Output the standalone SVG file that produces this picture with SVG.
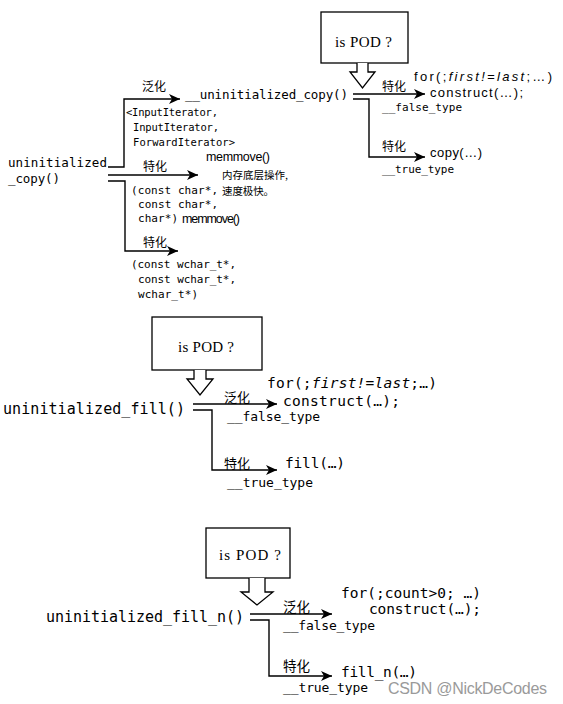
<svg xmlns="http://www.w3.org/2000/svg" width="563" height="704" viewBox="0 0 563 704">
<defs>
<marker id="ah" markerUnits="userSpaceOnUse" markerWidth="12" markerHeight="10" refX="11" refY="5" orient="auto">
<path d="M0,0 L11,5 L0,10 L3,5 Z" fill="#000"/>
</marker>
</defs>
<style>
.ln{fill:none;stroke:#000;stroke-width:1.4}
.arr{fill:none;stroke:#000;stroke-width:1.4;marker-end:url(#ah)}
.box{fill:#fff;stroke:#000;stroke-width:1.3}
.hol{fill:#fff;stroke:#000;stroke-width:1.3;stroke-linejoin:miter}
.m{font-family:"DejaVu Sans Mono","Liberation Mono",monospace;fill:#000}
.s{font-family:"Liberation Sans",Arial,sans-serif;fill:#000}
.c{font-family:"Noto Sans CJK SC","Noto Sans",sans-serif;fill:#000}
.pod{font-family:"Liberation Serif","Times New Roman",serif;font-size:15px;fill:#000}
.wm{font-family:"Liberation Sans",Arial,sans-serif;font-size:16px;fill:#9a9a9a}
</style>
<rect width="563" height="704" fill="#fff"/>

<!-- ============ Section 1 ============ -->
<g id="pod1">
<rect class="box" x="321" y="12" width="87" height="51"/>
<text class="pod" x="335" y="47" textLength="57">is POD ?</text>
<path class="hol" d="M357,63 L357,72 L350,72 L362.5,88 L375,72 L368,72 L368,63"/>
</g>
<g id="uc">
<text class="m" x="8" y="167" font-size="12.5" textLength="99">uninitialized</text>
<text class="m" x="8" y="183" font-size="12.5" textLength="52">_copy()</text>
</g>
<g id="uuc">
<text class="m" x="185" y="99" font-size="12.5" textLength="163">__uninitialized_copy()</text>
</g>
<g id="generic1">
<text class="c" x="142" y="91" font-size="12">泛化</text>
<text class="m" x="126" y="116" font-size="10.5" textLength="92">&lt;InputIterator,</text>
<text class="m" x="133" y="131" font-size="10.5" textLength="86">InputIterator,</text>
<text class="m" x="133" y="146" font-size="10.5" textLength="102">ForwardIterator&gt;</text>
</g>
<g id="char1">
<text class="s" x="206" y="161" font-size="12.5" textLength="64">memmove()</text>
<text class="c" x="143" y="171" font-size="12">特化</text>
<text class="c" x="222" y="179" font-size="10.5" textLength="66">内存底层操作,</text>
<text class="c" x="222" y="195" font-size="10.5" textLength="52">速度极快。</text>
<text class="m" x="131" y="194" font-size="11" textLength="87">(const char*,</text>
<text class="m" x="138" y="208" font-size="11" textLength="80">const char*,</text>
<text class="m" x="138" y="222" font-size="11" textLength="40">char*)</text>
<text class="s" x="182" y="223" font-size="12.5" textLength="58">memmove()</text>
</g>
<g id="wchar1">
<text class="c" x="143" y="247" font-size="12">特化</text>
<text class="m" x="131" y="268" font-size="11" textLength="105">(const wchar_t*,</text>
<text class="m" x="138" y="283" font-size="11" textLength="98">const wchar_t*,</text>
<text class="m" x="138" y="298" font-size="11" textLength="60">wchar_t*)</text>
</g>
<g id="false1">
<text class="c" x="382" y="91" font-size="12">特化</text>
<text class="s" x="414" y="81" font-size="13" textLength="138">for(;<tspan font-style="italic">first!=last</tspan>;…)</text>
<text class="s" x="430" y="97" font-size="13" textLength="93">construct(…);</text>
<text class="m" x="382" y="111" font-size="11" textLength="80">__false_type</text>
</g>
<g id="true1">
<text class="c" x="382" y="151" font-size="12">特化</text>
<text class="s" x="430" y="157" font-size="13" textLength="52">copy(…)</text>
<text class="m" x="382" y="173" font-size="11" textLength="72">__true_type</text>
</g>

<!-- ============ Section 2 ============ -->
<g id="pod2">
<rect class="box" x="152" y="317" width="110" height="53"/>
<text class="pod" x="178" y="352" textLength="56">is POD ?</text>
<path class="hol" d="M194,370 L194,379 L187,379 L200,395 L213,379 L206,379 L206,370"/>
</g>
<g id="uf">
<text class="m" x="3" y="414" font-size="15" textLength="182">uninitialized_fill()</text>
</g>
<g id="false2">
<text class="c" x="224" y="402" font-size="13">泛化</text>
<text class="m" x="267" y="388" font-size="14.5" textLength="170">for(;<tspan font-style="italic">first!=last</tspan>;…)</text>
<text class="m" x="283" y="406" font-size="14.5" textLength="117">construct(…);</text>
<text class="m" x="227" y="421" font-size="13" textLength="93">__false_type</text>
</g>
<g id="true2">
<text class="c" x="224" y="468" font-size="13">特化</text>
<text class="m" x="285" y="468" font-size="14.5" textLength="60">fill(…)</text>
<text class="m" x="227" y="487" font-size="13" textLength="86">__true_type</text>
</g>

<!-- ============ Section 3 ============ -->
<g id="pod3">
<rect class="box" x="206" y="528" width="84" height="50"/>
<text class="pod" x="219" y="560" textLength="62">is POD ?</text>
<path class="hol" d="M249,578 L249,592 L241,592 L257,605 L273,592 L265,592 L265,578"/>
</g>
<g id="ufn">
<text class="m" x="46" y="622" font-size="15" textLength="198">uninitialized_fill_n()</text>
</g>
<g id="false3">
<text class="c" x="283" y="612" font-size="13.5">泛化</text>
<text class="m" x="341" y="598" font-size="14.5" textLength="140">for(;count&gt;0; …)</text>
<text class="m" x="369" y="614" font-size="14.5" textLength="112">construct(…);</text>
<text class="m" x="283" y="630" font-size="13" textLength="92">__false_type</text>
</g>
<g id="true3">
<text class="c" x="283" y="671" font-size="13.5">特化</text>
<text class="m" x="341" y="677" font-size="14.5" textLength="76">fill_n(…)</text>
<text class="m" x="283" y="692" font-size="13" textLength="85">__true_type</text>
</g>
<text class="wm" x="388" y="694" textLength="159">CSDN @NickDeCodes</text>

<!-- ============ Connectors ============ -->
<g id="connectors">
<!-- section 1 left -->
<path class="arr" d="M108,167 L124,167 L124,99 L180,99"/>
<path class="arr" d="M108,175 L198,175"/>
<path class="arr" d="M108,181 L125,181 L125,251 L178,251"/>
<!-- section 1 right -->
<path class="arr" d="M353,94 L425,94"/>
<path class="arr" d="M353,99 L369,99 L369,157 L425,157"/>
<!-- section 2 -->
<path class="arr" d="M193,404 L277,404"/>
<path class="arr" d="M193,410 L212,410 L212,470 L277,470"/>
<!-- section 3 -->
<path class="arr" d="M250,614 L332,614"/>
<path class="arr" d="M250,620 L269,620 L269,676 L332,676"/>
</g>
</svg>
